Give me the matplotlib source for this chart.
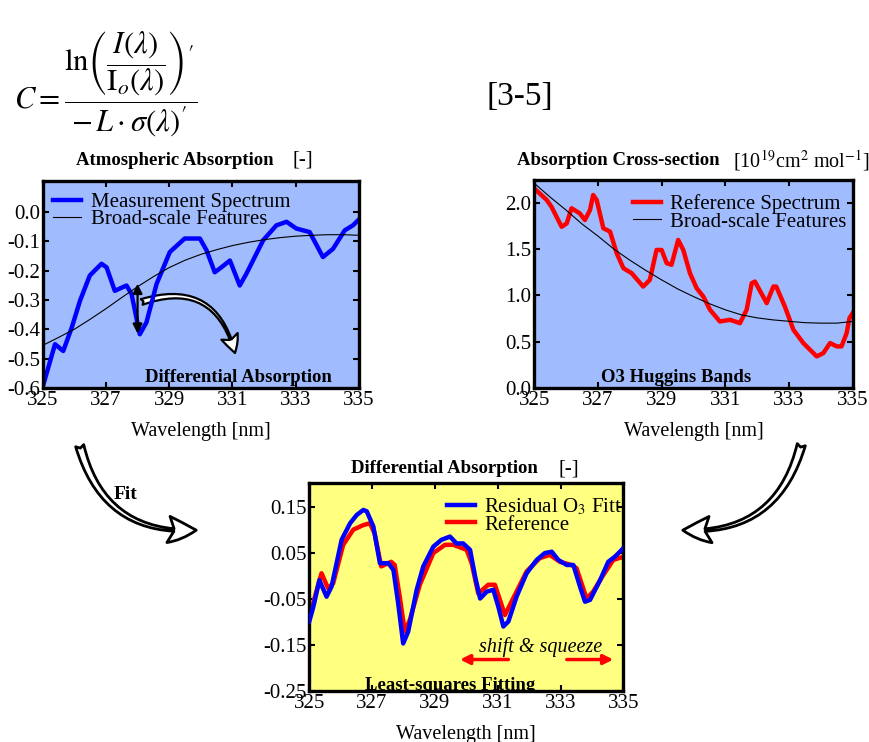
import matplotlib
matplotlib.use("Agg")
import matplotlib.pyplot as plt
from matplotlib.patches import FancyArrowPatch

plt.rcParams['font.family'] = ['Liberation Serif', 'DejaVu Serif']
plt.rcParams['mathtext.fontset'] = 'stix'
plt.rcParams['axes.unicode_minus'] = False

# ---- data ----
meas_wl = [325.02, 325.39, 325.65, 325.92, 326.18, 326.49, 326.86, 327.02, 327.28, 327.65,
           327.81, 328.07, 328.28, 328.6, 329.02, 329.49, 329.97, 330.18, 330.44, 330.65,
           330.92, 331.23, 331.44, 331.97, 332.39, 332.71, 333.02, 333.44, 333.86, 334.18,
           334.55, 334.81, 334.97]
meas_val = [-0.589, -0.451, -0.474, -0.394, -0.303, -0.217, -0.177, -0.189, -0.269, -0.251,
            -0.28, -0.417, -0.377, -0.246, -0.137, -0.091, -0.091, -0.131, -0.206, -0.189,
            -0.166, -0.251, -0.211, -0.097, -0.046, -0.034, -0.057, -0.069, -0.154, -0.126,
            -0.063, -0.046, -0.029]
broad1_wl = [325, 325.5, 326, 326.5, 327, 327.5, 328, 328.5, 329, 329.5, 330, 330.5,
             331, 331.5, 332, 332.5, 333, 333.5, 334, 334.5, 335]
broad1_val = [-0.455, -0.428, -0.40, -0.366, -0.33, -0.292, -0.255, -0.221, -0.19, -0.165,
              -0.145, -0.129, -0.115, -0.104, -0.095, -0.088, -0.083, -0.080, -0.078, -0.078, -0.080]

xsec_wl = [325.0, 325.39, 325.54, 325.86, 326.02, 326.17, 326.43, 326.59, 326.75, 326.85,
           326.96, 327.17, 327.38, 327.59, 327.8, 328.06, 328.42, 328.63, 328.84, 329.0,
           329.16, 329.31, 329.52, 329.68, 329.89, 330.1, 330.31, 330.52, 330.83, 331.15,
           331.46, 331.67, 331.83, 331.93, 332.3, 332.51, 332.6, 332.87, 333.14, 333.45,
           333.87, 334.08, 334.29, 334.5, 334.65, 334.81, 334.9, 335.0]
xsec_val = [2.154, 2.03, 1.957, 1.74, 1.777, 1.94, 1.885, 1.813, 1.92, 2.083,
            2.03, 1.724, 1.688, 1.454, 1.293, 1.239, 1.095, 1.167, 1.49, 1.49,
            1.347, 1.33, 1.598, 1.49, 1.239, 1.077, 0.987, 0.844, 0.718, 0.736,
            0.70, 0.844, 1.131, 1.149, 0.916, 1.095, 1.095, 0.88, 0.628, 0.485,
            0.341, 0.377, 0.485, 0.449, 0.449, 0.592, 0.754, 0.808]
broad2_wl = [325, 325.5, 326, 326.5, 327, 327.5, 328, 328.5, 329, 329.5, 330, 330.5,
             331, 331.5, 332, 332.5, 333, 333.5, 334, 334.5, 335]
broad2_val = [2.21, 2.06, 1.92, 1.77, 1.64, 1.50, 1.38, 1.27, 1.167, 1.07, 0.987, 0.91,
              0.844, 0.79, 0.757, 0.735, 0.72, 0.705, 0.70, 0.70, 0.718]

resid_wl = [325.0, 325.13, 325.32, 325.55, 325.71, 326.03, 326.3, 326.51, 326.72, 326.83,
            327.04, 327.25, 327.52, 327.68, 327.83, 327.99, 328.15, 328.42, 328.63, 328.95,
            329.21, 329.48, 329.69, 329.9, 330.12, 330.28, 330.44, 330.65, 330.86, 331.02,
            331.18, 331.34, 331.6, 331.92, 332.24, 332.5, 332.72, 332.93, 333.2, 333.41,
            333.62, 333.78, 333.94, 334.26, 334.52, 334.73, 334.95, 335.0]
resid_val = [-0.099, -0.067, -0.009, -0.045, -0.023, 0.079, 0.115, 0.133, 0.144, 0.141,
             0.108, 0.028, 0.028, 0.013, -0.059, -0.147, -0.121, -0.030, 0.021, 0.064,
             0.079, 0.086, 0.071, 0.071, 0.057, -0.001, -0.049, -0.034, -0.030, -0.067,
             -0.110, -0.099, -0.045, 0.006, 0.035, 0.050, 0.053, 0.035, 0.024, 0.024,
             -0.023, -0.056, -0.052, -0.009, 0.031, 0.042, 0.057, 0.061]
ref_wl = [325.0, 325.18, 325.39, 325.6, 325.76, 326.08, 326.4, 326.72, 326.93, 327.08,
          327.29, 327.61, 327.72, 327.88, 328.04, 328.2, 328.52, 328.95, 329.32, 329.59,
          330.01, 330.17, 330.38, 330.7, 330.91, 331.23, 331.49, 331.92, 332.34, 332.66,
          332.98, 333.35, 333.51, 333.83, 334.04, 334.36, 334.68, 335.0]
ref_val = [-0.092, -0.045, 0.006, -0.027, -0.016, 0.068, 0.101, 0.111, 0.115, 0.093,
           0.021, 0.031, 0.024, -0.045, -0.121, -0.096, -0.019, 0.050, 0.068, 0.068,
           0.057, 0.028, -0.038, -0.019, -0.019, -0.085, -0.049, 0.010, 0.039, 0.046,
           0.031, 0.024, 0.017, -0.049, -0.034, 0.002, 0.035, 0.042]

xticks = [325, 327, 329, 331, 333, 335]

BLUE_BG = '#a0bcff'
YELLOW_BG = '#ffff80'


def style_axes(ax, bg, yticks, ylim):
    ax.set_facecolor(bg)
    ax.set_xlim(325, 335)
    ax.set_ylim(ylim)
    ax.set_xticks(xticks)
    ax.set_yticks(yticks)
    ax.tick_params(direction='in', top=True, right=True, length=4, width=1.5,
                   labelsize=15, pad=2)
    for s in ax.spines.values():
        s.set_linewidth(2.4)
    ax.set_xlabel('Wavelength [nm]', fontsize=14.5, labelpad=9)


def legend_at(ax, handles, labels, anchor, loc):
    ax.legend(handles, labels, loc=loc, frameon=False, fontsize=15, handlelength=1.35,
              borderaxespad=0.0, borderpad=0.0, labelspacing=-0.12, handletextpad=0.45,
              bbox_to_anchor=anchor)


fig = plt.figure(figsize=(8.69, 7.42), dpi=100)

# formula
fig.text(0.016, 0.886,
         r'$C = \dfrac{\ln\!\left(\dfrac{I(\lambda)}{\mathrm{I}_o(\lambda)}\right)^{\prime}}{-\,L\cdot\sigma(\lambda)^{\prime}}$',
         fontsize=22, va='center', ha='left')
fig.text(0.598, 0.869, '[3-5]', fontsize=24, ha='center', va='center')

# ---- top left: atmospheric absorption ----
ax1 = fig.add_axes([0.0491, 0.4771, 0.364, 0.279])
l1, = ax1.plot(meas_wl, meas_val, color='#0000ff', lw=3.2)
l2, = ax1.plot(broad1_wl, broad1_val, color='black', lw=0.8)
style_axes(ax1, BLUE_BG, [-0.6, -0.5, -0.4, -0.3, -0.2, -0.1, 0.0], (-0.6, 0.105))
legend_at(ax1, [l1, l2], ['Measurement Spectrum', 'Broad-scale Features'],
          (0.033, 0.945), 'upper left')
ax1.text(331.18, -0.563, 'Differential Absorption', fontsize=13.5, fontweight='bold',
         ha='center', va='center')
ax1.annotate('', xy=(328.0, -0.245), xytext=(328.0, -0.415),
             arrowprops=dict(arrowstyle='<|-|>', color='black', lw=1.6,
                             mutation_scale=14, shrinkA=0, shrinkB=0))
ax1.add_patch(FancyArrowPatch((328.05, -0.31), (331.1, -0.49),
                              connectionstyle='arc3,rad=-0.55',
                              arrowstyle='fancy,head_length=0.9,head_width=0.9,tail_width=0.3',
                              mutation_scale=14, facecolor='white', edgecolor='black', lw=1.6))
fig.text(0.2015, 0.784, 'Atmospheric Absorption', fontsize=13.5, fontweight='bold',
         ha='center', va='center')
fig.text(0.348, 0.784, '[-]', fontsize=15, ha='center', va='center')

# ---- top right: absorption cross-section ----
ax2 = fig.add_axes([0.6148, 0.4771, 0.3664, 0.2803])
r1, = ax2.plot(xsec_wl, xsec_val, color='#ff0000', lw=3.2)
r2, = ax2.plot(broad2_wl, broad2_val, color='black', lw=0.8)
style_axes(ax2, BLUE_BG, [0.0, 0.5, 1.0, 1.5, 2.0], (0, 2.245))
legend_at(ax2, [r1, r2], ['Reference Spectrum', 'Broad-scale Features'],
          (0.31, 0.93), 'upper left')
ax2.text(329.47, 0.118, 'O3 Huggins Bands', fontsize=13.5, fontweight='bold',
         ha='center', va='center')
fig.text(0.595, 0.784, 'Absorption Cross-section', fontsize=13.5, fontweight='bold',
         ha='left', va='center')
fig.text(0.922, 0.784, r'[10$^{19}$cm$^{2}$ mol$^{-1}$]', fontsize=14.5,
         ha='center', va='center')

# ---- bottom: differential absorption fit ----
ax3 = fig.add_axes([0.3559, 0.0691, 0.3614, 0.2795])
b1, = ax3.plot(ref_wl, ref_val, color='#ff0000', lw=3.2, zorder=2)
b2, = ax3.plot(resid_wl, resid_val, color='#0000ff', lw=3.2, zorder=3)
style_axes(ax3, YELLOW_BG, [-0.25, -0.15, -0.05, 0.05, 0.15], (-0.25, 0.202))
legend_at(ax3, [b2, b1], [r'Residual O$_3$ Fitt', 'Reference'],
          (0.437, 0.935), 'upper left')
ax3.text(332.35, -0.154, 'shift & squeeze', fontsize=14.5, fontstyle='italic',
         ha='center', va='center')
ax3.annotate('', xy=(329.8, -0.182), xytext=(331.34, -0.182),
             arrowprops=dict(arrowstyle='-|>', color='red', lw=2.5, mutation_scale=14,
                             shrinkA=0, shrinkB=0))
ax3.annotate('', xy=(334.68, -0.182), xytext=(333.2, -0.182),
             arrowprops=dict(arrowstyle='-|>', color='red', lw=2.5, mutation_scale=14,
                             shrinkA=0, shrinkB=0))
ax3.text(329.48, -0.238, 'Least-squares Fitting', fontsize=13.5, fontweight='bold',
         ha='center', va='center', clip_on=True)
fig.text(0.512, 0.368, 'Differential Absorption', fontsize=13.5, fontweight='bold',
         ha='center', va='center')
fig.text(0.654, 0.368, '[-]', fontsize=15, ha='center', va='center')

# ---- big hollow arrows linking panels ----
fig.patches.append(FancyArrowPatch((79 / 869, 1 - 443 / 742), (199 / 869, 1 - 530 / 742),
                                   transform=fig.transFigure, figure=fig,
                                   connectionstyle='arc3,rad=0.42',
                                   arrowstyle='fancy,head_length=1.0,head_width=0.95,tail_width=0.3',
                                   mutation_scale=20, facecolor='white', edgecolor='black', lw=2))
fig.patches.append(FancyArrowPatch((802 / 869, 1 - 442 / 742), (680 / 869, 1 - 530 / 742),
                                   transform=fig.transFigure, figure=fig,
                                   connectionstyle='arc3,rad=-0.42',
                                   arrowstyle='fancy,head_length=1.0,head_width=0.95,tail_width=0.3',
                                   mutation_scale=20, facecolor='white', edgecolor='black', lw=2))
fig.text(0.145, 0.334, 'Fit', fontsize=14, fontweight='bold', ha='center', va='center')

fig.savefig('out.png', dpi=100)
